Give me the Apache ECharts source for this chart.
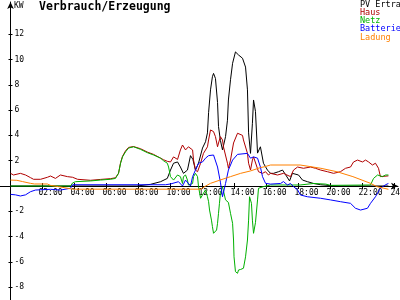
<!DOCTYPE html>
<html><head><meta charset="utf-8">
<script src="https://cdn.jsdelivr.net/npm/echarts@6/dist/echarts.min.js"></script>
<style>html,body{margin:0;padding:0;background:#fff}#c{width:400px;height:300px}</style>
</head><body><div id="c"></div>
<script>
// hour of day, kW
const seriesNames = ['PV Ertrag', 'Haus', 'Netz', 'Batterie', 'Ladung'];
const xTicks = [2,4,6,8,10,12,14,16,18,20,22,24];
const yTicks = [-8,-6,-4,-2,2,4,6,8,10,12];

const pvErtrag = [[0,0],[7.9,0],[8.75,0.13],[9.38,0.34],[9.8,0.6],[10,1.26],[10.19,1.8],[10.44,1.9],[10.62,1.5],[10.81,1.0],[11.06,1.26],[11.25,2.4],[11.4,2.1],[11.56,1.26],[11.75,1.8],[12,3.0],[12.19,3.5],[12.31,4.2],[12.38,5.8],[12.5,7.6],[12.62,8.64],[12.69,8.9],[12.81,8.5],[12.94,6.6],[13,4.7],[13.12,3.6],[13.25,2.85],[13.44,3.9],[13.56,5.2],[13.62,6.8],[13.75,8.4],[13.88,9.7],[14.06,10.6],[14.25,10.36],[14.5,10.1],[14.69,9.4],[14.81,7.6],[14.88,4.2],[15,2.58],[15.12,4.96],[15.19,6.8],[15.31,5.9],[15.44,2.6],[15.62,3.1],[15.81,1.8],[16.06,1.26],[16.25,1.0],[16.44,1.0],[16.75,1.13],[17,1.26],[17.19,0.9],[17.44,0.4],[17.62,1.0],[18,0.87],[18.25,0.47],[18.56,0.34],[18.94,0.2],[19.38,0.1],[20,0.03],[20.6,0],[23.62,0]];

const haus = [[0,1.0],[0.19,0.87],[0.62,1.0],[0.94,0.87],[1.25,0.66],[1.44,0.53],[1.88,0.53],[2.31,0.69],[2.5,0.79],[2.81,0.6],[3.12,0.87],[3.56,0.74],[3.88,0.69],[4.19,0.53],[5,0.45],[5.62,0.52],[6.25,0.58],[6.56,0.65],[6.75,1.0],[6.88,1.85],[7,2.35],[7.19,2.78],[7.38,3.05],[7.69,3.12],[8.12,2.95],[8.56,2.68],[8.94,2.5],[9.38,2.2],[9.56,2.08],[9.8,1.95],[10,1.9],[10.19,2.3],[10.44,2.1],[10.62,2.85],[10.75,3.24],[10.94,2.85],[11.12,3.1],[11.38,2.85],[11.44,2.05],[11.56,1.26],[11.69,1.13],[11.88,1.8],[12.06,2.58],[12.31,3.1],[12.38,3.64],[12.5,4.43],[12.62,4.56],[12.69,4.3],[12.81,3.9],[12.94,3.1],[13,3.4],[13.12,3.9],[13.25,3.64],[13.31,3.1],[13.56,1.8],[13.62,1.4],[13.75,2.05],[13.94,3.4],[14.19,4.17],[14.25,4.3],[14.5,4.0],[14.56,3.64],[14.81,2.58],[14.88,1.8],[15,1.26],[15.12,2.05],[15.19,2.3],[15.5,1.13],[15.75,1.0],[15.94,1.13],[16.12,0.87],[16.25,1.0],[16.69,0.87],[17.06,1.0],[17.5,0.74],[17.69,1.26],[17.94,1.5],[18.31,1.4],[18.75,1.5],[19.06,1.4],[19.38,1.26],[19.81,1.13],[20.19,1.0],[20.62,1.13],[20.94,1.4],[21.25,1.5],[21.44,1.9],[21.69,2.05],[22,1.9],[22.19,2.05],[22.38,1.9],[22.62,1.66],[22.81,1.8],[23,1.4],[23.12,0.74],[23.62,0.8]];

const netz = [[0,0],[3.75,0],[3.88,0.24],[4.06,0.34],[5,0.4],[5.62,0.47],[6.25,0.53],[6.56,0.6],[6.75,1.0],[6.88,1.8],[7,2.3],[7.19,2.7],[7.38,3.0],[7.69,3.1],[8.12,2.9],[8.56,2.63],[8.94,2.45],[9.38,2.2],[9.56,2.0],[9.8,1.8],[9.88,1.5],[10,0.74],[10.19,0.47],[10.44,0.87],[10.5,1.0],[10.62,0.74],[10.75,0.2],[10.81,0.74],[10.94,0.87],[11.06,0.47],[11.12,0.08],[11.38,0.2],[11.44,0.74],[11.56,1.0],[11.69,0.74],[11.75,-0.05],[11.88,-0.97],[12,-0.7],[12.19,-0.3],[12.31,-0.85],[12.38,-1.24],[12.44,-1.9],[12.56,-2.7],[12.62,-3.2],[12.69,-3.74],[12.75,-3.87],[12.88,-3.48],[12.94,-2.95],[13,-2.16],[13.06,-1.37],[13.12,-0.58],[13.25,-0.05],[13.44,-1.1],[13.62,-1.3],[13.75,-2.16],[13.88,-2.95],[13.94,-4.27],[13.97,-5.6],[14.06,-6.77],[14.19,-6.9],[14.25,-6.64],[14.38,-6.6],[14.56,-6.5],[14.69,-5.6],[14.81,-4.27],[14.88,-2.7],[14.94,-0.85],[15.06,-1.37],[15.12,-2.7],[15.19,-3.74],[15.31,-2.9],[15.44,-1.1],[15.5,-0.18],[15.81,-0.05],[16.25,0.08],[18.1,0.08],[18.94,0.2],[19.7,0.15],[20,0.05],[22.5,0.08],[22.69,0.6],[22.94,0.87],[23.25,0.74],[23.44,0.87],[23.62,0.87]];

const batterie = [[0,-0.66],[0.31,-0.7],[0.62,-0.79],[0.94,-0.7],[1.25,-0.45],[1.56,-0.32],[2.5,-0.26],[3.12,-0.32],[3.75,-0.18],[3.88,0.1],[9.69,0.1],[10,0.16],[10.5,0.34],[10.75,0.0],[10.94,0.47],[11.25,0.0],[11.38,0.74],[11.56,1.26],[11.75,1.8],[12,1.9],[12.19,2.2],[12.38,2.4],[12.69,2.45],[12.81,2.3],[12.94,1.5],[13.12,0.3],[13.25,-0.85],[13.44,0.2],[13.62,1.26],[13.88,2.05],[14.19,2.5],[14.81,2.58],[15,2.2],[15.19,2.3],[15.44,2.2],[15.62,1.5],[15.75,0.74],[15.94,0.21],[16.25,0.15],[16.88,0.2],[17.06,0.35],[17.31,0.08],[17.5,0.2],[17.69,-0.05],[17.94,-0.3],[18.12,-0.71],[18.56,-0.85],[19.38,-0.97],[20,-1.1],[20.62,-1.24],[21.25,-1.37],[21.56,-1.76],[21.88,-1.9],[22.31,-1.76],[22.5,-1.37],[22.81,-0.85],[23.12,-0.18],[23.44,0.1],[23.62,0.2]];

const ladung = [[0,0.47],[0.4,0.45],[0.75,0.35],[1.25,0.21],[1.5,0.16],[2.3,0.16],[2.5,0.05],[3.0,-0.05],[3.75,-0.22],[4,-0.25],[11.9,-0.25],[12.2,0.0],[12.5,0.21],[13.1,0.47],[13.75,0.74],[14.38,1.0],[15,1.19],[15.6,1.45],[15.9,1.53],[16.25,1.66],[18.1,1.66],[19.4,1.4],[20.4,1.13],[21.4,0.74],[22.5,0.21],[22.9,-0.05],[23.62,-0.26]];

const seriesData = [pvErtrag, haus, netz, batterie, ladung];
const colors = ['#000000', '#b00000', '#00b000', '#0000ff', '#ff8000'];

const FONT = 'DejaVu Sans Mono';
const chart = echarts.init(document.getElementById('c'), null, {renderer: 'canvas'});
// grid spans the whole canvas; axes are shifted onto the zero lines by offsets
const GRID = {left:0, right:2, top:2, bottom:0};
const X0 = 10.5, Y0 = 186, PXH = 16, PXKW = 12.65;
const xMin = -X0/PXH, xMax = (400-GRID.right-X0)/PXH;
const yMin = -(300-GRID.bottom-Y0)/PXKW, yMax = (Y0-GRID.top)/PXKW;
const xOff = -(300-GRID.bottom-Y0);   // move bottom axis up to y=0
const yOff = -(X0-GRID.left);          // move left axis right to x=0

const axisBase = {type:'value', splitLine:{show:false}};
chart.setOption({
  animation: false,
  backgroundColor: '#fff',
  title: [
    {text:'Verbrauch/Erzeugung', left:39, top:1, padding:0,
     textStyle:{fontFamily:FONT, fontSize:11.5, fontWeight:'bold', color:'#000'}},
    {text:'KW', left:14, top:2, padding:0,
     textStyle:{fontFamily:FONT, fontSize:8, fontWeight:'normal', color:'#000'}}
  ],
  legend: {
    orient:'vertical', left:355, top:0, padding:0, itemGap:-0.8,
    itemWidth:0, itemHeight:0, icon:'rect', selectedMode:false,
    textStyle:{fontFamily:FONT, fontSize:8.5, lineHeight:8.3, padding:0},
    data: seriesNames.map((n,i)=>({name:n, textStyle:{color:colors[i]}}))
  },
  grid: Object.assign({containLabel:false, outerBoundsMode:'none'}, GRID),
  xAxis: [
    Object.assign({}, axisBase, {
      min:xMin, max:xMax, position:'bottom', offset:xOff,
      axisLine:{onZero:false, lineStyle:{color:'#000', width:1}, symbol:['none','arrow'], symbolSize:[5,7]},
      axisTick:{show:true, length:3, inside:false, customValues:xTicks, lineStyle:{color:'#000'}},
      axisLabel:{show:true, customValues:xTicks, margin:3, color:'#000', fontFamily:FONT, fontSize:8,
        padding:[0,0,0,16],
        formatter: v => (v<10?'0':'') + v + ':00'}
    }),
    Object.assign({}, axisBase, {
      min:xMin, max:xMax, position:'bottom', offset:xOff,
      axisLine:{show:false, onZero:false},
      axisTick:{show:true, length:3, inside:true, customValues:xTicks, lineStyle:{color:'#000'}},
      axisLabel:{show:false}
    })
  ],
  yAxis: [
    Object.assign({}, axisBase, {
      min:yMin, max:yMax, position:'left', offset:yOff,
      axisLine:{onZero:false, lineStyle:{color:'#000', width:1}, symbol:['none','arrow'], symbolSize:[5,7]},
      axisTick:{show:true, length:2, inside:false, customValues:yTicks, lineStyle:{color:'#000'}},
      axisLabel:{show:true, inside:true, customValues:yTicks, margin:4, color:'#000', fontFamily:FONT, fontSize:8,
        formatter: v => String(v)}
    }),
    Object.assign({}, axisBase, {
      min:yMin, max:yMax, position:'left', offset:yOff,
      axisLine:{show:false, onZero:false},
      axisTick:{show:true, length:2, inside:true, customValues:yTicks, lineStyle:{color:'#000'}},
      axisLabel:{show:false}
    })
  ],
  series: seriesNames.map((n,i)=>({
    name:n, type:'line', data:seriesData[i], xAxisIndex:0, yAxisIndex:0,
    showSymbol:false, symbol:'none', smooth:false,
    lineStyle:{color:colors[i], width:1}, itemStyle:{color:colors[i]},
    clip:true
  }))
});
</script></body></html>
